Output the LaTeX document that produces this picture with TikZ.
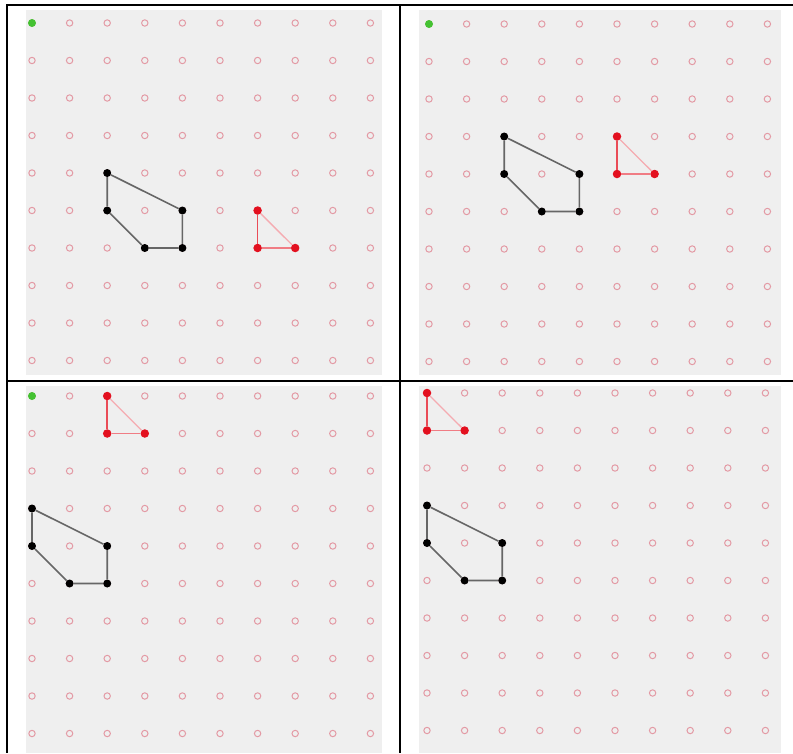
\documentclass[tikz,border=0pt]{standalone}
\usepackage{tikz}
\usetikzlibrary{positioning}

\definecolor{panelgray}{HTML}{EFEFEF}
\definecolor{ringpink}{HTML}{E39AA5}
\definecolor{dotred}{HTML}{E3101F}
\definecolor{dotgreen}{HTML}{44C232}
\definecolor{edgegray}{HTML}{666666}

\begin{document}
\begin{tikzpicture}[
  x=1pt, y=-1pt,
  panel/.style={fill=panelgray, draw=none},
  frame/.style={line width=2pt, black},
  gridpt/.style={circle, draw=ringpink, line width=1pt, inner sep=0pt, minimum size=6.4pt},
  blackpt/.style={circle, fill=black, inner sep=0pt, minimum size=8pt},
  redpt/.style={circle, fill=dotred, inner sep=0pt, minimum size=8.5pt},
  greenpt/.style={circle, fill=dotgreen, inner sep=0pt, minimum size=8pt},
  polyline/.style={edgegray, line width=1.6pt},
  redside/.style={line width=1.6pt, color=dotred!75!white},
  redbase/.style={line width=1.5pt, color=dotred!55!white},
  redslope/.style={line width=1.3pt, color=dotred!35!white}
]
\useasboundingbox (0,0) rectangle (793,753);

% Panel backgrounds
\fill[panel] (26,10) rectangle (382,375);
\fill[panel] (419,10) rectangle (781,375);
\fill[panel] (26,386) rectangle (382,753);
\fill[panel] (419,386) rectangle (781,753);

% Table rules
\draw[frame] (7,5) -- (793,5);
\draw[frame] (7,4) -- (7,753);
\draw[frame] (400,4) -- (400,753);
\draw[frame] (6,380.5) -- (793,380.5);

% Grids of holes
\foreach \px/\py/\name in {32/23/p1, 429/24/p2, 32/396/p3, 427/393/p4} {
  \begin{scope}[shift={(\px,\py)}]
    \foreach \c in {0,...,9}
      \foreach \r in {0,...,9}
        \node[gridpt] (\name-\c-\r) at (\c*37.6, \r*37.5) {};
  \end{scope}
}

% Start markers
\node[greenpt] (p1-start) at (p1-0-0) {};
\node[greenpt] (p2-start) at (p2-0-0) {};
\node[greenpt] (p3-start) at (p3-0-0) {};

% Panel 1
\node[blackpt] (p1-k1) at (p1-2-4) {};
\node[blackpt] (p1-k2) at (p1-4-5) {};
\node[blackpt] (p1-k3) at (p1-4-6) {};
\node[blackpt] (p1-k4) at (p1-3-6) {};
\node[blackpt] (p1-k5) at (p1-2-5) {};
\draw[polyline] (p1-k1) -- (p1-k2) -- (p1-k3) -- (p1-k4) -- (p1-k5) -- (p1-k1);
\node[redpt] (p1-t1) at (p1-6-5) {};
\node[redpt] (p1-t2) at (p1-6-6) {};
\node[redpt] (p1-t3) at (p1-7-6) {};
\draw[redside] (p1-t1) -- (p1-t2);
\draw[redbase] (p1-t2) -- (p1-t3);
\draw[redslope] (p1-t3) -- (p1-t1);

% Panel 2
\node[blackpt] (p2-k1) at (p2-2-3) {};
\node[blackpt] (p2-k2) at (p2-4-4) {};
\node[blackpt] (p2-k3) at (p2-4-5) {};
\node[blackpt] (p2-k4) at (p2-3-5) {};
\node[blackpt] (p2-k5) at (p2-2-4) {};
\draw[polyline] (p2-k1) -- (p2-k2) -- (p2-k3) -- (p2-k4) -- (p2-k5) -- (p2-k1);
\node[redpt] (p2-t1) at (p2-5-3) {};
\node[redpt] (p2-t2) at (p2-5-4) {};
\node[redpt] (p2-t3) at (p2-6-4) {};
\draw[redside] (p2-t1) -- (p2-t2);
\draw[redbase] (p2-t2) -- (p2-t3);
\draw[redslope] (p2-t3) -- (p2-t1);

% Panel 3
\node[blackpt] (p3-k1) at (p3-0-3) {};
\node[blackpt] (p3-k2) at (p3-2-4) {};
\node[blackpt] (p3-k3) at (p3-2-5) {};
\node[blackpt] (p3-k4) at (p3-1-5) {};
\node[blackpt] (p3-k5) at (p3-0-4) {};
\draw[polyline] (p3-k1) -- (p3-k2) -- (p3-k3) -- (p3-k4) -- (p3-k5) -- (p3-k1);
\node[redpt] (p3-t1) at (p3-2-0) {};
\node[redpt] (p3-t2) at (p3-2-1) {};
\node[redpt] (p3-t3) at (p3-3-1) {};
\draw[redside] (p3-t1) -- (p3-t2);
\draw[redbase] (p3-t2) -- (p3-t3);
\draw[redslope] (p3-t3) -- (p3-t1);

% Panel 4
\node[blackpt] (p4-k1) at (p4-0-3) {};
\node[blackpt] (p4-k2) at (p4-2-4) {};
\node[blackpt] (p4-k3) at (p4-2-5) {};
\node[blackpt] (p4-k4) at (p4-1-5) {};
\node[blackpt] (p4-k5) at (p4-0-4) {};
\draw[polyline] (p4-k1) -- (p4-k2) -- (p4-k3) -- (p4-k4) -- (p4-k5) -- (p4-k1);
\node[redpt] (p4-t1) at (p4-0-0) {};
\node[redpt] (p4-t2) at (p4-0-1) {};
\node[redpt] (p4-t3) at (p4-1-1) {};
\draw[redside] (p4-t1) -- (p4-t2);
\draw[redbase] (p4-t2) -- (p4-t3);
\draw[redslope] (p4-t3) -- (p4-t1);

\end{tikzpicture}
\end{document}
